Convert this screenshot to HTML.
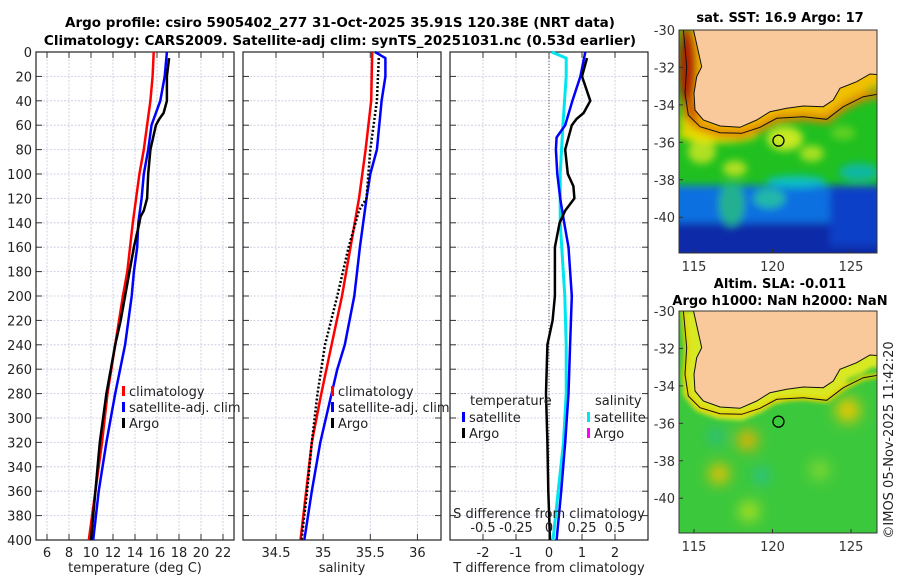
<!DOCTYPE html>
<html><head><meta charset="utf-8">
<style>
html,body{margin:0;padding:0;background:#fff;}
svg{display:block;font-family:"DejaVu Sans","Liberation Sans",sans-serif;}
</style></head>
<body>
<svg id="chart" width="900" height="580" viewBox="0 0 900 580" xmlns="http://www.w3.org/2000/svg">
<defs>
<filter id="blur2" x="-50%" y="-50%" width="200%" height="200%"><feGaussianBlur stdDeviation="2"/></filter>
<filter id="blur3" x="-50%" y="-50%" width="200%" height="200%"><feGaussianBlur stdDeviation="4"/></filter>
<filter id="blur6" x="-50%" y="-50%" width="200%" height="200%"><feGaussianBlur stdDeviation="7"/></filter>
<clipPath id="clipTop"><rect x="679" y="30" width="198" height="223"/></clipPath>
<clipPath id="clipBot"><rect x="679" y="311" width="198" height="222"/></clipPath>
</defs>
<text x="340" y="27" text-anchor="middle" font-size="13.5" font-weight="bold">Argo profile: csiro 5905402_277 31-Oct-2025 35.91S 120.38E (NRT data)</text>
<text x="340" y="45" text-anchor="middle" font-size="13.5" font-weight="bold">Climatology: CARS2009. Satellite-adj clim: synTS_20251031.nc (0.53d earlier)</text>
<g id="plots"></g>
<g id="maps"></g>
<text transform="translate(893,440) rotate(-90)" text-anchor="middle" font-size="13" fill="#222">©IMOS 05-Nov-2025 11:42:20</text>
</svg>
<script>
// ---------- data ----------
const tDepth   = [0,20,40,60,80,100,140,180,200,240,280,320,360,400];
const tClim    = [15.7,15.6,15.4,15.1,14.8,14.4,13.8,13.3,12.9,12.2,11.5,11.0,10.4,9.8];
const tSatDepth= [0,20,40,60,80,100,120,140,160,180,200,240,280,320,360,400];
const tSat     = [16.9,16.7,16.3,15.5,15.2,14.8,14.6,14.3,14.2,13.9,13.7,13.1,12.2,11.4,10.7,10.2];
const argoDepth= [5,20,40,50,55,60,80,100,120,130,135,140,160,180,200,220,240,280,300,320,360,400];
const argoT    = [17.1,16.9,16.9,16.6,16.2,15.9,15.4,15.2,15.1,14.8,14.5,14.4,13.9,13.5,13.1,12.7,12.2,11.4,11.1,10.8,10.4,10.0];

const sDepth   = [0,40,80,120,160,200,240,280,320,360,400];
const sClim    = [35.52,35.51,35.45,35.38,35.29,35.20,35.09,34.98,34.88,34.82,34.76];
const sSatDepth= [0,5,20,40,80,100,120,160,200,240,260,280,320,360,400];
const sSat     = [35.55,35.66,35.66,35.62,35.57,35.50,35.46,35.39,35.33,35.23,35.15,35.09,34.97,34.88,34.80];
const argoSDepth=[5,40,80,100,120,130,160,200,240,280,320,360,400];
const argoS    = [35.59,35.57,35.50,35.48,35.46,35.38,35.27,35.15,35.02,34.94,34.88,34.83,34.77];

const dSDepth  = [0,5,20,60,100,140,200,240,280,320,360,400];
const dSsat    = [0.02,0.13,0.13,0.105,0.085,0.085,0.12,0.13,0.13,0.11,0.07,0.03];
const dTDepth  = [0,20,40,60,70,80,100,120,140,160,200,240,280,320,360,400];
const dTsat    = [1.1,0.95,0.71,0.49,0.23,0.21,0.25,0.34,0.46,0.59,0.69,0.64,0.59,0.49,0.37,0.23];
const dArgoDepth=[5,20,40,50,55,60,80,100,110,120,130,140,160,200,220,240,280,320,360,400];
const dTargo   = [1.15,1.0,1.25,1.05,0.83,0.69,0.49,0.57,0.74,0.77,0.49,0.32,0.18,0.18,0.11,-0.05,-0.09,-0.05,-0.02,0.03];

const depthTicks = [0,20,40,60,80,100,120,140,160,180,200,220,240,260,280,300,320,340,360,380,400];
const tTicks = [6,8,10,12,14,16,18,20,22];
const sTicks = [34.5,35,35.5,36];
const dTTicks = [-2,-1,0,1,2];
const dSTicks = [-0.5,-0.25,0,0.25,0.5];
const dSLabels = ['-0.5','-0.25','0','0.25','0.5'];
const latTicks = [-30,-32,-34,-36,-38,-40];
const lonTicks = [115,120,125];

// ---------- helpers ----------
const NS='http://www.w3.org/2000/svg';
function mk(tag, attrs, parent){const e=document.createElementNS(NS,tag);for(const k in attrs)e.setAttribute(k,attrs[k]);parent.appendChild(e);return e;}
const plots=document.getElementById('plots');
const top0=52, bot0=540;
const yD = d => top0 + d*(bot0-top0)/400;

function panel(name,x0,x1,xmin,xmax,ticks,labels,xlabel,showDepth){
  const g=mk('g',{},plots);
  
  
  const sx=v=>x0+(v-xmin)*(x1-x0)/(xmax-xmin);
  depthTicks.forEach(d=>{
    mk('line',{x1:x0,x2:x1,y1:yD(d),y2:yD(d),stroke:'#c4c8e0','stroke-width':0.8,'stroke-dasharray':'2,1.5'},g);
    mk('line',{x1:x0,x2:x0+6,y1:yD(d),y2:yD(d),stroke:'#333','stroke-width':1},g);
    mk('line',{x1:x1-6,x2:x1,y1:yD(d),y2:yD(d),stroke:'#333','stroke-width':1},g);
    if(showDepth){const t=mk('text',{x:x0-4,y:yD(d)+5,'text-anchor':'end','font-size':13,fill:'#222'},g);t.textContent=d;}
  });
  ticks.forEach((v,i)=>{
    mk('line',{x1:sx(v),x2:sx(v),y1:top0,y2:bot0,stroke:'#c4c8e0','stroke-width':0.8,'stroke-dasharray':'2,1.5'},g);
    mk('line',{x1:sx(v),x2:sx(v),y1:bot0,y2:bot0-6,stroke:'#333'},g);
    mk('line',{x1:sx(v),x2:sx(v),y1:top0,y2:top0+6,stroke:'#333'},g);
    const t=mk('text',{x:sx(v),y:bot0+17,'text-anchor':'middle','font-size':13,fill:'#222'},g);t.textContent=labels[i];
  });
  mk('rect',{x:x0,y:top0,width:x1-x0,height:bot0-top0,fill:'none',stroke:'#222','stroke-width':1.2},g);
  const xl=mk('text',{x:(x0+x1)/2,y:572,'text-anchor':'middle','font-size':13,fill:'#222'},g);xl.textContent=xlabel;
  return {g,sx};
}
function line(p,name,depths,vals,color,w,dash){
  const pts=depths.map((d,i)=>p.sx(vals[i]).toFixed(1)+','+yD(d).toFixed(1)).join(' ');
  const el=mk('polyline',{points:pts,fill:'none',stroke:color,'stroke-width':w,'stroke-linejoin':'round'},p.g);
  if(dash)el.setAttribute('stroke-dasharray',dash);
  
  
}
function legendItem(g,x,y,color,label){
  mk('rect',{x:x,y:y-9,width:3,height:10,fill:color},g);
  const t=mk('text',{x:x+7,y:y+1,'font-size':13,fill:'#222'},g);t.textContent=label;
  
  
}

const p1=panel('temperature-panel',36,234,5,23,tTicks,tTicks.map(String),'temperature (deg C)',true);
line(p1,'temp-climatology-line',tDepth,tClim,'#f00',2.5);
line(p1,'temp-satellite-line',tSatDepth,tSat,'#00f',2.5);
line(p1,'temp-argo-line',argoDepth,argoT,'#000',2.5);
legendItem(p1.g,122,395,'#f00','climatology');
legendItem(p1.g,122,411,'#00f','satellite-adj. clim');
legendItem(p1.g,122,427,'#000','Argo');

const p2=panel('salinity-panel',243,441,34.15,36.25,sTicks,['34.5','35','35.5','36'],'salinity',false);
line(p2,'sal-climatology-line',sDepth,sClim,'#f00',2.5);
line(p2,'sal-satellite-line',sSatDepth,sSat,'#00f',2.5);
line(p2,'sal-argo-line',argoSDepth,argoS,'#000',2.5,'2,2');
legendItem(p2.g,331,395,'#f00','climatology');
legendItem(p2.g,331,411,'#00f','satellite-adj. clim');
legendItem(p2.g,331,427,'#000','Argo');

const p3=panel('difference-panel',450,648,-3,3,dTTicks,dTTicks.map(String),'T difference from climatology',false);
mk('line',{x1:p3.sx(0),x2:p3.sx(0),y1:top0,y2:bot0,stroke:'#556','stroke-width':1,'stroke-dasharray':'1,2'},p3.g);
const sxS=v=>p3.sx(v*4);
line({g:p3.g,sx:v=>sxS(v)},'sal-diff-satellite-line',dSDepth,dSsat,'#00e5ee',3);
line(p3,'temp-diff-satellite-line',dTDepth,dTsat,'#00f',2.5);
line(p3,'temp-diff-argo-line',dArgoDepth,dTargo,'#000',2.5);
{const t=mk('text',{x:470,y:405,'font-size':13,fill:'#222'},p3.g);t.textContent='temperature';}
{const t=mk('text',{x:595,y:405,'font-size':13,fill:'#222'},p3.g);t.textContent='salinity';}
legendItem(p3.g,462,421,'#00f','satellite');
legendItem(p3.g,462,437,'#000','Argo');
legendItem(p3.g,587,421,'#00e5ee','satellite');
legendItem(p3.g,587,437,'#f0f','Argo');
{const t=mk('text',{x:549,y:518,'text-anchor':'middle','font-size':13,fill:'#222'},p3.g);t.textContent='S difference from climatology';
 }
dSTicks.forEach((v,i)=>{const t=mk('text',{x:sxS(v),y:532,'text-anchor':'middle','font-size':13,fill:'#222'},p3.g);t.textContent=dSLabels[i];});

// ---------- maps ----------
const maps=document.getElementById('maps');
const landZ=[[70,87],[95,200],[80,230],[72,280],[75,330],[100,360],[150,378],[210,382],[260,360],[300,335],[350,325],[400,318],[460,320],[490,300],[510,265],[560,245],[600,222],[640,225],[640,80]];
const landPts=landZ.map(p=>[670+p[0]/3,p[1]/3]);
const isoZ=[[40,87],[50,200],[45,280],[55,345],[90,380],[150,398],[215,400],[270,382],[320,355],[400,350],[470,358],[520,320],[580,290],[640,280]];
const isoPts=isoZ.map(p=>[670+p[0]/3,p[1]/3]);
function drawMap(name,y0,off,kind,title1,title2){
  const g=mk('g',{},maps);
  
  
  const clip=mk('g',{'clip-path':kind==='sst'?'url(#clipTop)':'url(#clipBot)'},g);
  const lx=v=>694+(v-115)*15.7, ly=v=>y0+(-30-v)*18.72;
  const pts=landPts.map(p=>p[0].toFixed(1)+','+(p[1]+off).toFixed(1)).join(' ');
  const isoStr=isoPts.map(p=>p[0].toFixed(1)+','+(p[1]+off).toFixed(1)).join(' ');
  if(kind==='sst'){
    mk('rect',{x:679,y:y0,width:198,height:223,fill:'#20c020'},clip);
    const bl=mk('g',{filter:'url(#blur3)'},clip);
    mk('rect',{x:670,y:ly(-38.3),width:220,height:70,fill:'#1070e0'},bl);
    mk('rect',{x:670,y:ly(-40.3),width:220,height:40,fill:'#0a2aa8'},bl);
    mk('rect',{x:830,y:ly(-38.3),width:60,height:60,fill:'#0a40c8'},bl);
    mk('ellipse',{cx:lx(117.4),cy:ly(-39.3),rx:13,ry:22,fill:'#20b090'},bl);
    mk('ellipse',{cx:lx(119.8),cy:ly(-39),rx:16,ry:10,fill:'#20b8a8'},bl);
    mk('ellipse',{cx:lx(121.5),cy:ly(-38.1),rx:30,ry:6,fill:'#10c0c0'},bl);
    mk('ellipse',{cx:lx(125.5),cy:ly(-37.6),rx:20,ry:9,fill:'#10b8a0'},bl);
    mk('ellipse',{cx:lx(115.5),cy:ly(-36.5),rx:14,ry:12,fill:'#b0e020'},bl);
    mk('ellipse',{cx:lx(117.6),cy:ly(-37.4),rx:12,ry:8,fill:'#b0e020'},bl);
    mk('ellipse',{cx:lx(120.8),cy:ly(-35.8),rx:18,ry:12,fill:'#c8e820'},bl);
    mk('ellipse',{cx:lx(122.5),cy:ly(-36.6),rx:12,ry:8,fill:'#a8e020'},bl);
    mk('ellipse',{cx:lx(124.5),cy:ly(-35.5),rx:12,ry:7,fill:'#60d020'},bl);
    mk('ellipse',{cx:lx(116.5),cy:ly(-35.6),rx:40,ry:8,fill:'#e8e000'},bl);
    mk('ellipse',{cx:lx(114.6),cy:ly(-35),rx:8,ry:12,fill:'#e0d000'},bl);
    mk('polyline',{points:pts,fill:'none',stroke:'#f0c000','stroke-width':26,'stroke-linejoin':'round'},bl);
    mk('polyline',{points:isoStr,fill:'none',stroke:'#e08000','stroke-width':8,'stroke-linejoin':'round'},bl);
    mk('ellipse',{cx:lx(114.6),cy:ly(-32),rx:9,ry:40,fill:'#b02000'},bl);
    mk('ellipse',{cx:lx(114.9),cy:ly(-34.3),rx:7,ry:12,fill:'#d06000'},bl);
  } else {
    mk('rect',{x:679,y:y0,width:198,height:222,fill:'#3cc83c'},clip);
    const bl=mk('g',{filter:'url(#blur6)'},clip);
    mk('circle',{cx:lx(118.4),cy:ly(-36.9),r:10,fill:'#f0b000'},bl);
    mk('circle',{cx:lx(116.6),cy:ly(-38.7),r:10,fill:'#f0c000'},bl);
    mk('circle',{cx:lx(124.8),cy:ly(-35.3),r:12,fill:'#f0c800'},bl);
    mk('circle',{cx:lx(116.4),cy:ly(-36.7),r:7,fill:'#20b8a0'},bl);
    mk('circle',{cx:lx(119.3),cy:ly(-38.8),r:7,fill:'#20c0b0'},bl);
    mk('circle',{cx:lx(118.5),cy:ly(-40.7),r:10,fill:'#b0e020'},bl);
    mk('circle',{cx:lx(123),cy:ly(-38.5),r:10,fill:'#80d830'},bl);
    const b2=mk('g',{filter:'url(#blur2)'},clip);
    mk('polyline',{points:pts,fill:'none',stroke:'#d8e820','stroke-width':24,'stroke-linejoin':'round'},b2);
    mk('polyline',{points:isoStr,fill:'none',stroke:'#e8d000','stroke-width':5,'stroke-linejoin':'round'},b2);
  }
  const land=mk('polygon',{points:pts,fill:'#f9c99b',stroke:'#111','stroke-width':1},clip);
  
  
  mk('polyline',{points:isoStr,fill:'none',stroke:'#111','stroke-width':1},clip);
  const m=mk('circle',{cx:lx(120.38),cy:ly(-35.91),r:5.5,fill:'none',stroke:'#000','stroke-width':1.3},g);
  
  
  const h=kind==='sst'?223:222;
  mk('rect',{x:679,y:y0,width:198,height:h,fill:'none',stroke:'#333','stroke-width':1},g);
  latTicks.forEach(v=>{
    const t=mk('text',{x:675,y:ly(v)+5,'text-anchor':'end','font-size':13,fill:'#333'},g);t.textContent=v;
    mk('line',{x1:679,x2:683,y1:ly(v),y2:ly(v),stroke:'#333'},g);
  });
  lonTicks.forEach(v=>{
    const t=mk('text',{x:lx(v),y:y0+h+18,'text-anchor':'middle','font-size':13,fill:'#333'},g);t.textContent=v;
    mk('line',{x1:lx(v),x2:lx(v),y1:y0+h,y2:y0+h-4,stroke:'#333'},g);
  });
  const t1=mk('text',{x:780,y:title2?y0-23:y0-8,'text-anchor':'middle','font-size':13,'font-weight':'bold'},g);t1.textContent=title1;
  if(title2){const t2=mk('text',{x:780,y:y0-6,'text-anchor':'middle','font-size':13,'font-weight':'bold'},g);t2.textContent=title2;}
}
drawMap('sst-map',30,0,'sst','sat. SST: 16.9 Argo: 17');
drawMap('sla-map',311,281,'sla','Altim. SLA: -0.011','Argo h1000: NaN h2000: NaN');
</script>
</body></html>
